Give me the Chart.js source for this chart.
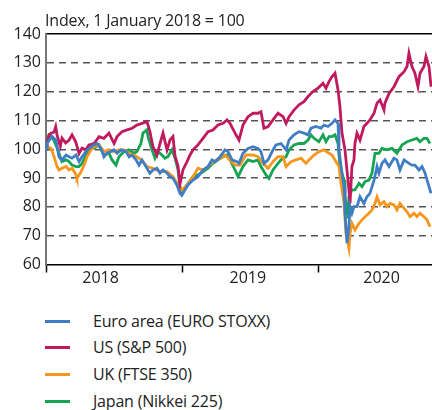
<!DOCTYPE html>
<html lang="en">
<head>
<meta charset="UTF-8">
<title>Stock market indices</title>
<script src="https://cdn.jsdelivr.net/npm/chart.js"></script>
<style>
  body { margin: 0; background: #fff; }
  #wrap { position: relative; width: 432px; height: 410px; font-family: "Open Sans", sans-serif; color: #222; }
  #title { position: absolute; left: 45px; top: 9px; font-size: 16px; white-space: nowrap; letter-spacing: -0.2px; }
  #box { position: absolute; left: 0; top: 0; width: 432px; height: 292px; }
  .item { position: absolute; left: 45px; font-size: 16px; white-space: nowrap; letter-spacing: -0.2px; }
  .item i { position: absolute; left: 0; top: 10px; width: 25px; height: 3px; }
  .item span { position: absolute; left: 48px; top: 0; }
</style>
</head>
<body>
<div id="wrap">
  <div id="box"><canvas id="myChart"></canvas></div>
  <div id="title">Index, 1 January 2018 = 100</div>
  <div id="legend"></div>
</div>
<script>
// x = decimal year, y = index (1 January 2018 = 100)
const euroArea = [[2018.000,100],[2018.007,102],[2018.044,104.4],[2018.073,103.2],[2018.095,97.4],[2018.117,96.3],[2018.147,98],[2018.169,97.4],[2018.191,96.9],[2018.220,98],[2018.242,95.7],[2018.264,97.4],[2018.293,99.2],[2018.315,100.3],[2018.352,101.5],[2018.374,102],[2018.403,100.3],[2018.425,97.4],[2018.447,98.6],[2018.477,99.2],[2018.499,99.8],[2018.521,98.6],[2018.550,99.8],[2018.587,99.2],[2018.609,97.4],[2018.631,98],[2018.660,96.3],[2018.682,94.5],[2018.704,96.3],[2018.740,93.4],[2018.762,91.7],[2018.784,92.8],[2018.814,93.4],[2018.836,91.7],[2018.858,92.8],[2018.887,91.7],[2018.909,90.5],[2018.931,89.9],[2018.960,87.6],[2018.982,84.7],[2018.997,84.1],[2019.019,85.9],[2019.041,87.6],[2019.078,89.3],[2019.114,90.5],[2019.151,92.8],[2019.188,94],[2019.217,96.3],[2019.239,95.7],[2019.276,97.4],[2019.312,99.8],[2019.334,99.2],[2019.364,96.3],[2019.400,95.7],[2019.415,95.1],[2019.444,98.6],[2019.481,100.3],[2019.518,100.9],[2019.554,100.3],[2019.576,99.2],[2019.598,95.1],[2019.628,96.3],[2019.664,99.8],[2019.686,101.5],[2019.723,102],[2019.760,99.8],[2019.782,103.2],[2019.818,105],[2019.855,106.1],[2019.891,105.6],[2019.921,105],[2019.943,107.3],[2019.979,107.9],[2020.016,107.3],[2020.038,108.4],[2020.067,107.9],[2020.097,109],[2020.119,110.2],[2020.141,109],[2020.148,99.8],[2020.170,91.7],[2020.185,87],[2020.192,77.8],[2020.207,67.4],[2020.221,73.1],[2020.229,80.1],[2020.243,77.8],[2020.258,80.1],[2020.280,80.1],[2020.302,83.5],[2020.331,81.2],[2020.353,83.5],[2020.375,84.7],[2020.405,89.3],[2020.427,94],[2020.441,91.7],[2020.463,95.1],[2020.485,96.3],[2020.515,94],[2020.551,96.9],[2020.573,96.3],[2020.595,92.8],[2020.625,96.3],[2020.661,95.1],[2020.683,94.5],[2020.705,94.5],[2020.735,92.8],[2020.757,94],[2020.779,91.7],[2020.808,87],[2020.823,84.7]];

const us = [[2018.000,100],[2018.007,102],[2018.022,105],[2018.037,105.6],[2018.059,106],[2018.071,107.8],[2018.081,105],[2018.095,102.5],[2018.105,101],[2018.117,103.9],[2018.144,102.2],[2018.169,103.2],[2018.191,105],[2018.218,102.6],[2018.242,98.5],[2018.264,100.4],[2018.291,99.8],[2018.315,101.5],[2018.352,102],[2018.389,104.4],[2018.425,103.8],[2018.462,105.6],[2018.499,102],[2018.521,104.4],[2018.557,106.1],[2018.594,106.7],[2018.631,107.3],[2018.667,108.4],[2018.704,109],[2018.740,109.6],[2018.748,108.4],[2018.762,106.1],[2018.784,100.9],[2018.814,98],[2018.836,102],[2018.858,105.6],[2018.887,99.8],[2018.909,103.2],[2018.931,104.4],[2018.946,97.7],[2018.968,94.2],[2018.982,87.8],[2019.004,92.8],[2019.034,95.7],[2019.056,98],[2019.078,99.8],[2019.114,101.5],[2019.151,103.8],[2019.188,106.1],[2019.224,106.7],[2019.261,108.4],[2019.298,109],[2019.327,110.2],[2019.349,109],[2019.386,105.6],[2019.415,103.2],[2019.444,108.4],[2019.481,111.3],[2019.518,112.5],[2019.554,112.5],[2019.576,113],[2019.598,107.3],[2019.628,107.9],[2019.664,110.2],[2019.701,112.5],[2019.738,111.3],[2019.760,109],[2019.782,111.3],[2019.818,113.6],[2019.855,115.4],[2019.891,116.5],[2019.921,118.3],[2019.957,120],[2019.994,121.2],[2020.031,122.9],[2020.053,121.2],[2020.075,123.5],[2020.097,125.2],[2020.119,126.4],[2020.141,120.6],[2020.155,114.8],[2020.170,105.6],[2020.192,99.8],[2020.221,85.9],[2020.229,81.2],[2020.243,94],[2020.258,96.3],[2020.265,102],[2020.280,105.6],[2020.302,103.2],[2020.331,107.9],[2020.353,109],[2020.375,110.2],[2020.405,112.5],[2020.427,116],[2020.449,117.1],[2020.478,113.6],[2020.485,116],[2020.515,119.4],[2020.551,121.7],[2020.588,125.2],[2020.625,126.9],[2020.647,128.7],[2020.661,133.3],[2020.683,128.7],[2020.705,126.4],[2020.727,121.7],[2020.742,126.4],[2020.771,128.7],[2020.786,132.2],[2020.808,128.7],[2020.823,121.7]];

const uk = [[2018.000,100],[2018.007,100.9],[2018.037,100.3],[2018.059,97.4],[2018.081,94],[2018.095,92.8],[2018.117,93.4],[2018.147,94],[2018.169,92.8],[2018.191,93.4],[2018.220,91.1],[2018.227,89.9],[2018.257,92.2],[2018.279,94.5],[2018.301,97.4],[2018.330,99.8],[2018.352,100.9],[2018.389,101.5],[2018.425,99.2],[2018.462,99.8],[2018.499,99.2],[2018.535,99.8],[2018.572,99.8],[2018.609,98.6],[2018.645,98],[2018.682,96.9],[2018.711,95.7],[2018.740,94],[2018.784,93.4],[2018.836,92.2],[2018.887,92.2],[2018.931,90.5],[2018.968,87.6],[2018.997,85.9],[2019.034,87.6],[2019.078,90.5],[2019.114,93.4],[2019.151,92.8],[2019.188,94],[2019.224,95.7],[2019.276,96.9],[2019.312,98],[2019.349,96.3],[2019.386,94.5],[2019.422,94.5],[2019.466,98],[2019.518,98],[2019.554,97.4],[2019.591,95.1],[2019.628,93.4],[2019.664,95.7],[2019.701,97.4],[2019.738,97.4],[2019.760,94],[2019.796,95.7],[2019.833,96.3],[2019.870,96.9],[2019.906,95.1],[2019.928,96.3],[2019.965,98],[2020.001,99.2],[2020.038,99.8],[2020.075,98.6],[2020.097,98],[2020.119,96.3],[2020.148,94],[2020.163,88.2],[2020.185,81.2],[2020.199,70.8],[2020.221,65.6],[2020.229,70.8],[2020.243,74.3],[2020.265,72],[2020.295,74.3],[2020.317,75.5],[2020.339,76.6],[2020.368,77.8],[2020.390,78.9],[2020.412,81.2],[2020.427,83.5],[2020.449,80.7],[2020.478,81.8],[2020.500,80.1],[2020.522,81.2],[2020.551,80.7],[2020.573,78.9],[2020.595,81.2],[2020.625,79.5],[2020.647,78.3],[2020.669,76.6],[2020.698,77.8],[2020.720,76.6],[2020.742,77.8],[2020.771,76.6],[2020.793,75.5],[2020.815,73.1]];

const japan = [[2018.000,100],[2018.007,103.2],[2018.022,105],[2018.044,104.4],[2018.073,101.5],[2018.095,98.6],[2018.117,95.7],[2018.147,96.3],[2018.169,95.7],[2018.191,94.5],[2018.220,94],[2018.242,94],[2018.264,95.1],[2018.293,98],[2018.315,100.3],[2018.352,100.3],[2018.389,101.5],[2018.425,98],[2018.462,98.6],[2018.484,96.3],[2018.513,94.5],[2018.535,97.4],[2018.572,99.2],[2018.609,99.8],[2018.645,98.6],[2018.667,99.2],[2018.696,102],[2018.711,105.6],[2018.740,106.7],[2018.748,104.4],[2018.777,99.8],[2018.799,96.9],[2018.821,99.2],[2018.850,98],[2018.872,96.9],[2018.894,97.4],[2018.924,99.8],[2018.946,96.9],[2018.968,92.8],[2018.982,87],[2018.997,84.5],[2019.019,86.5],[2019.041,88.2],[2019.078,90.5],[2019.114,91.1],[2019.151,92.2],[2019.188,93.4],[2019.224,95.1],[2019.261,96.3],[2019.298,97.4],[2019.327,98],[2019.349,96.3],[2019.386,92.8],[2019.408,90.5],[2019.415,91.1],[2019.444,94],[2019.481,96.3],[2019.518,95.7],[2019.554,96.3],[2019.576,94],[2019.613,91.1],[2019.635,89.9],[2019.664,92.8],[2019.701,95.1],[2019.723,96.3],[2019.760,97.4],[2019.782,99.8],[2019.818,101.5],[2019.855,102],[2019.891,102],[2019.921,103.2],[2019.943,105],[2019.965,103.8],[2020.001,102.6],[2020.031,105],[2020.053,102.6],[2020.075,104.4],[2020.097,104.4],[2020.119,105],[2020.141,102],[2020.155,94],[2020.185,89.3],[2020.192,83.5],[2020.214,76],[2020.221,83.5],[2020.243,85.9],[2020.265,85.9],[2020.295,88.2],[2020.317,87],[2020.339,88.8],[2020.368,89.3],[2020.390,91.7],[2020.412,98.6],[2020.441,98.6],[2020.463,100.3],[2020.500,99.8],[2020.537,100.3],[2020.573,98.6],[2020.610,101.5],[2020.647,102.6],[2020.683,103.2],[2020.720,103.8],[2020.742,102.6],[2020.771,103.8],[2020.793,103.8],[2020.815,102]];

const seriesNames = ['Euro area (EURO STOXX)', 'US (S&P 500)', 'UK (FTSE 350)', 'Japan (Nikkei 225)'];
const seriesColors = ['#3f7dc4', '#c0195e', '#f7961c', '#14a452'];
const years = ['2018', '2019', '2020'];
const yMin = 60, yMax = 140, xMin = 2018, xMax = 2020.83;

// where the year labels sit on the axis (between the year ticks)
const yearLabelAt = [2018.40, 2019.48, 2020.46];

const allSeries = [euroArea, us, uk, japan];

const font = { family: '"Open Sans", sans-serif', size: 16 };

new Chart(document.getElementById('myChart'), {
  type: 'line',
  data: {
    datasets: allSeries.map((s, i) => ({
      label: seriesNames[i],
      data: s.map(p => ({ x: p[0], y: p[1] })),
      borderColor: seriesColors[i],
      borderWidth: 2.8,
      pointRadius: 0,
      tension: 0
    }))
  },
  options: {
    responsive: true,
    maintainAspectRatio: false,
    animation: false,
    layout: { padding: { top: 34, right: 0, left: 0, bottom: 0 } },
    plugins: { legend: { display: false }, tooltip: { enabled: false } },
    scales: {
      x: {
        type: 'linear',
        min: xMin, max: xMax,
        afterFit: s => { s.height = 27.5; },
        afterBuildTicks: s => {
          const t = [];
          years.forEach((y, i) => { t.push({ value: +y }); t.push({ value: yearLabelAt[i] }); });
          s.ticks = t;
        },
        ticks: {
          autoSkip: false, maxRotation: 0, padding: -4, color: '#222', font: font,
          callback: v => Number.isInteger(v) ? '' : years[Math.floor(v) - 2018]
        },
        grid: {
          drawOnChartArea: false, tickLength: 8, tickWidth: 1.5,
          tickColor: c => Number.isInteger(c.tick.value) ? '#000' : 'rgba(0,0,0,0)'
        },
        border: { color: '#000', width: 1.5 }
      },
      xTop: {
        type: 'linear', position: 'top',
        min: xMin, max: xMax,
        afterFit: s => { s.height = 0; },
        ticks: { display: false },
        grid: { display: false },
        border: { color: '#000', width: 1.5 }
      },
      y: {
        min: yMin, max: yMax,
        afterFit: s => { s.width = 46; },
        ticks: { stepSize: 10, padding: 5, color: '#222', font: font },
        grid: {
          drawTicks: false, lineWidth: 1.5,
          color: c => (c.tick.value === yMin || c.tick.value === yMax) ? 'rgba(0,0,0,0)' : '#555'
        },
        border: { color: '#777', width: 2, dash: [7, 5] }
      }
    }
  }
});

// legend below the chart
const legend = document.getElementById('legend');
seriesNames.forEach((name, i) => {
  const d = document.createElement('div');
  d.className = 'item';
  d.style.top = (309.5 + i * 26.7) + 'px';
  const line = document.createElement('i');
  line.style.background = seriesColors[i];
  const txt = document.createElement('span');
  txt.textContent = name;
  d.appendChild(line);
  d.appendChild(txt);
  legend.appendChild(d);
});
</script>
</body>
</html>
